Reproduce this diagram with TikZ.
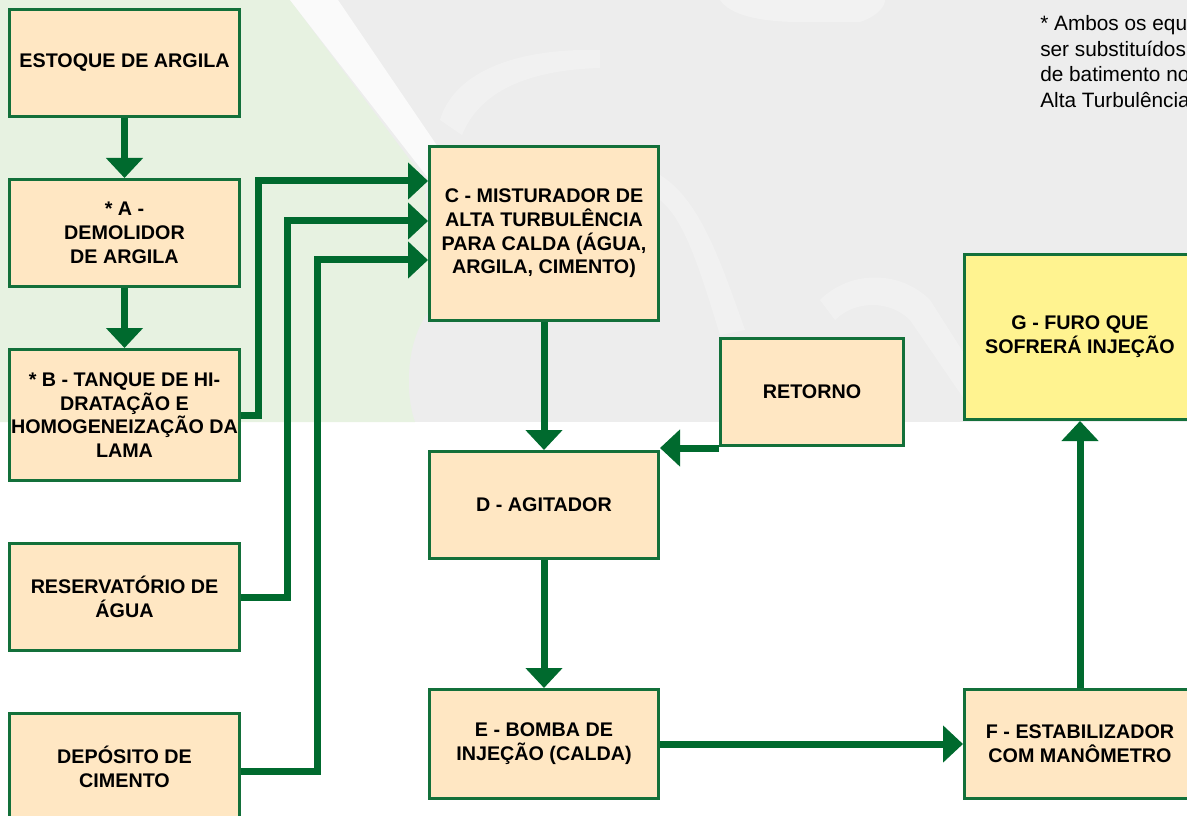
\documentclass[tikz,border=0pt]{standalone}
\usepackage{fontspec}
\setmainfont{Liberation Sans}
\usetikzlibrary{arrows.meta}
\definecolor{arr}{HTML}{006A2E}
\definecolor{bord}{HTML}{13703A}
\definecolor{peach}{HTML}{FFE7C3}
\definecolor{yelbox}{HTML}{FFF390}
\definecolor{bggreen}{HTML}{E7F2E1}
\definecolor{bggray}{HTML}{EDEDED}
\begin{document}
\begin{tikzpicture}[x=0.75pt,y=-0.75pt,
  box/.style={draw=bord, line width=2.25pt, fill=peach, align=center, inner sep=0pt,
    font={\fontsize{14.8}{17.8}\selectfont\bfseries}},
  bw/.style={minimum width=#1*0.75pt},
  bh/.style={minimum height=#1*0.75pt},
  flow/.style={draw=arr, line width=5.25pt, -{Triangle[width=27pt,length=15pt]}},
  note/.style={align=left, inner sep=0pt, anchor=north west,
    font={\fontsize{15.6}{19.3}\selectfont}}]
\useasboundingbox (0,0) rectangle (1187,816);
% background watermark
\fill[bggray] (0,0) rectangle (1187,422);
\fill[bggreen] (0,0) -- (290,0) -- (425,180) -- (430,310)
  .. controls (405,340) and (405,395) .. (415,422) -- (0,422) -- cycle;
\fill[white,opacity=0.75] (290,0) -- (338,0) -- (440,150) -- (428,178) -- cycle;
\fill[white,opacity=0.25] (440,120) .. controls (455,70) and (520,48) .. (600,50)
  -- (600,68) .. controls (530,70) and (480,90) .. (462,135) -- cycle;
\fill[white,opacity=0.25] (660,175) .. controls (700,200) and (720,260) .. (745,330)
  -- (720,335) .. controls (700,270) and (685,220) .. (660,200) -- cycle;
\fill[white,opacity=0.25] (820,300) .. controls (850,270) and (900,270) .. (930,300)
  -- (1000,410) -- (975,415) -- (910,320) .. controls (890,300) and (855,300) .. (835,320) -- cycle;
\fill[white,opacity=0.3] (720,0) .. controls (730,15) and (760,22) .. (800,22)
  -- (860,22) .. controls (880,15) and (885,5) .. (885,0) -- cycle;
% boxes
\node[box,bw=230,bh=107] (est) at (124.5,63) {ESTOQUE DE ARGILA};
\node[box,bw=230,bh=107] (demA) at (124.5,233) {* A -\\DEMOLIDOR\\DE ARGILA};
\node[box,bw=230,bh=131] (tanB) at (124.5,415) {* B - TANQUE DE HI-\\DRATAÇÃO E\\HOMOGENEIZAÇÃO DA\\LAMA};
\node[box,bw=230,bh=107] (res) at (124.5,597) {RESERVATÓRIO DE\\ÁGUA};
\node[box,bw=230,bh=107] (dep) at (124.5,767) {DEPÓSITO DE\\CIMENTO};
\node[box,bw=229,bh=174] (mixC) at (544,233.5) {C - MISTURADOR DE\\ALTA TURBULÊNCIA\\PARA CALDA (ÁGUA,\\ARGILA, CIMENTO)};
\node[box,bw=183,bh=107] (ret) at (812,392) {RETORNO};
\node[box,bw=229,bh=107] (agD) at (544,505) {D - AGITADOR};
\node[box,bw=229,bh=109] (bomE) at (544,744) {E - BOMBA DE\\INJEÇÃO (CALDA)};
\node[box,bw=231,bh=109] (estF) at (1080,744) {F - ESTABILIZADOR\\COM MANÔMETRO};
\node[box,bw=231,bh=165,fill=yelbox] (furG) at (1080,337) {G - FURO QUE\\SOFRERÁ INJEÇÃO};
% note
\node[note] (nota) at (1040,15) {* Ambos os equ\\ser substituídos\\de batimento no\\Alta Turbulência};
% connectors
\draw[flow] (est.south) -- (demA.north);
\draw[flow] (demA.south) -- (tanB.north);
\draw[flow] (tanB.east) -- (258,415) |- (mixC.west |- 0,181);
\draw[flow] (res.east) -- (287,597) |- (mixC.west |- 0,221);
\draw[flow] (dep.east |- 0,771) -- (317,771) |- (mixC.west |- 0,260);
\draw[flow] (mixC.south) -- (agD.north);
\draw[flow] (ret.west |- 0,448) -- (agD.east |- 0,448);
\draw[flow] (agD.south) -- (bomE.north);
\draw[flow] (bomE.east) -- (estF.west);
\draw[flow] (estF.north) -- (furG.south);
\end{tikzpicture}
\end{document}
